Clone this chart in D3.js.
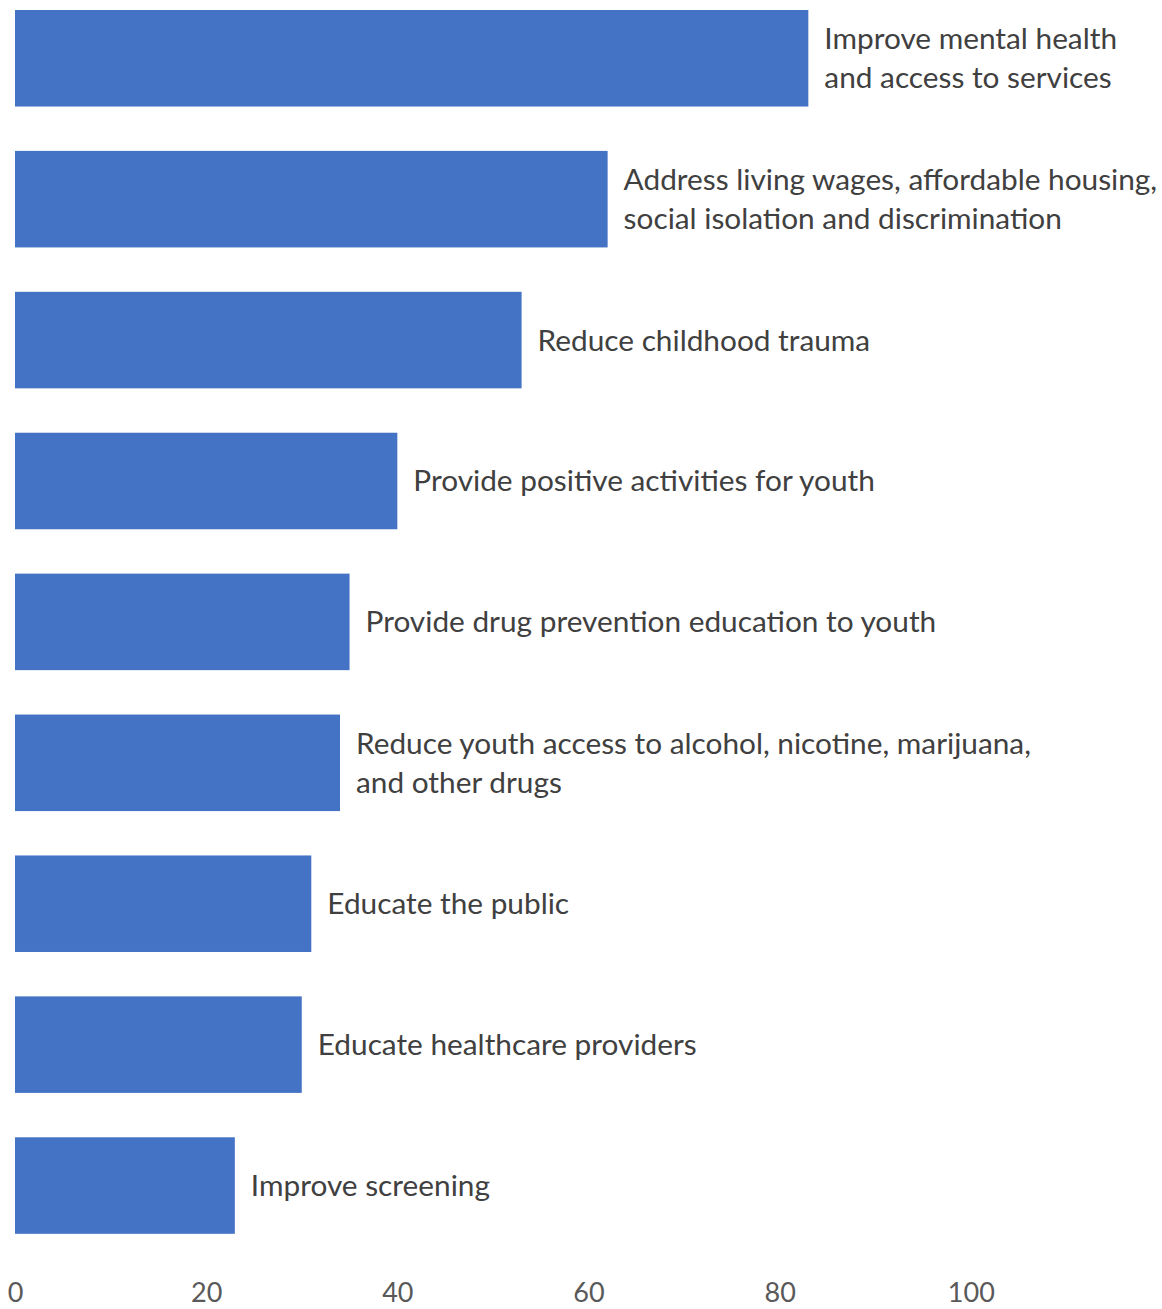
<!DOCTYPE html>
<html>
<head>
<meta charset="utf-8">
<script src="https://cdn.jsdelivr.net/npm/d3@7"></script>
<style>
  body { margin: 0; background: #fff; }
  text { font-family: Lato, "Noto Sans", sans-serif; }
</style>
</head>
<body>
<div id="chart"></div>
<script>
// data
var categories = [
  "Improve mental health\nand access to services",
  "Address living wages, affordable housing,\nsocial isolation and discrimination",
  "Reduce childhood trauma",
  "Provide positive activities for youth",
  "Provide drug prevention education to youth",
  "Reduce youth access to alcohol, nicotine, marijuana,\nand other drugs",
  "Educate the public",
  "Educate healthcare providers",
  "Improve screening"
];
var values = [83, 62, 53, 40, 35, 34, 31, 30, 23];
var tickValues = [0, 20, 40, 60, 80, 100];

var width = 1162, height = 1309;

var data = categories.map(function(c, i) { return {name: c, value: values[i]}; });

// set the ranges
var x = d3.scaleLinear()
    .domain([0, 120])
    .range([15, 1162]);

var y = d3.scaleBand()
    .domain(categories)
    .range([-12.2, 1256])
    .paddingInner(0.315)
    .paddingOuter(0.1575);

var svg = d3.select("#chart")
  .append("svg")
    .attr("width", width)
    .attr("height", height);

// bars
svg.selectAll(".bar")
    .data(data)
    .enter().append("rect")
    .attr("class", "bar")
    .attr("x", x(0))
    .attr("y", function(d) { return y(d.name); })
    .attr("width", function(d) { return x(d.value) - x(0); })
    .attr("height", y.bandwidth())
    .attr("fill", "#4472c4");

// category labels next to each bar
var labels = svg.selectAll(".label")
    .data(data)
    .enter().append("text")
    .attr("class", "label")
    .attr("fill", "#404040")
    .style("font-size", "29.8px")
    .attr("transform", function(d) {
      return "translate(" + (x(d.value) + 16) + "," + (y(d.name) + y.bandwidth() / 2) + ")";
    });

labels.each(function(d) {
  var lines = d.name.split("\n");
  var t = d3.select(this);
  lines.forEach(function(line, i) {
    t.append("tspan")
      .attr("x", 0)
      .attr("y", (i - (lines.length - 1) / 2) * 39)
      .attr("dy", "0.35em")
      .text(line);
  });
});

// x axis, labels only
var axis = svg.append("g")
    .attr("transform", "translate(0,1283)")
    .call(d3.axisBottom(x).tickValues(tickValues).tickSize(0).tickPadding(0));

axis.select(".domain").remove();
axis.selectAll("text")
    .attr("fill", "#595959")
    .attr("dy", "0.71em")
    .style("font-size", "27px")
    .style("font-family", "Lato, 'Noto Sans', sans-serif");
</script>
</body>
</html>
